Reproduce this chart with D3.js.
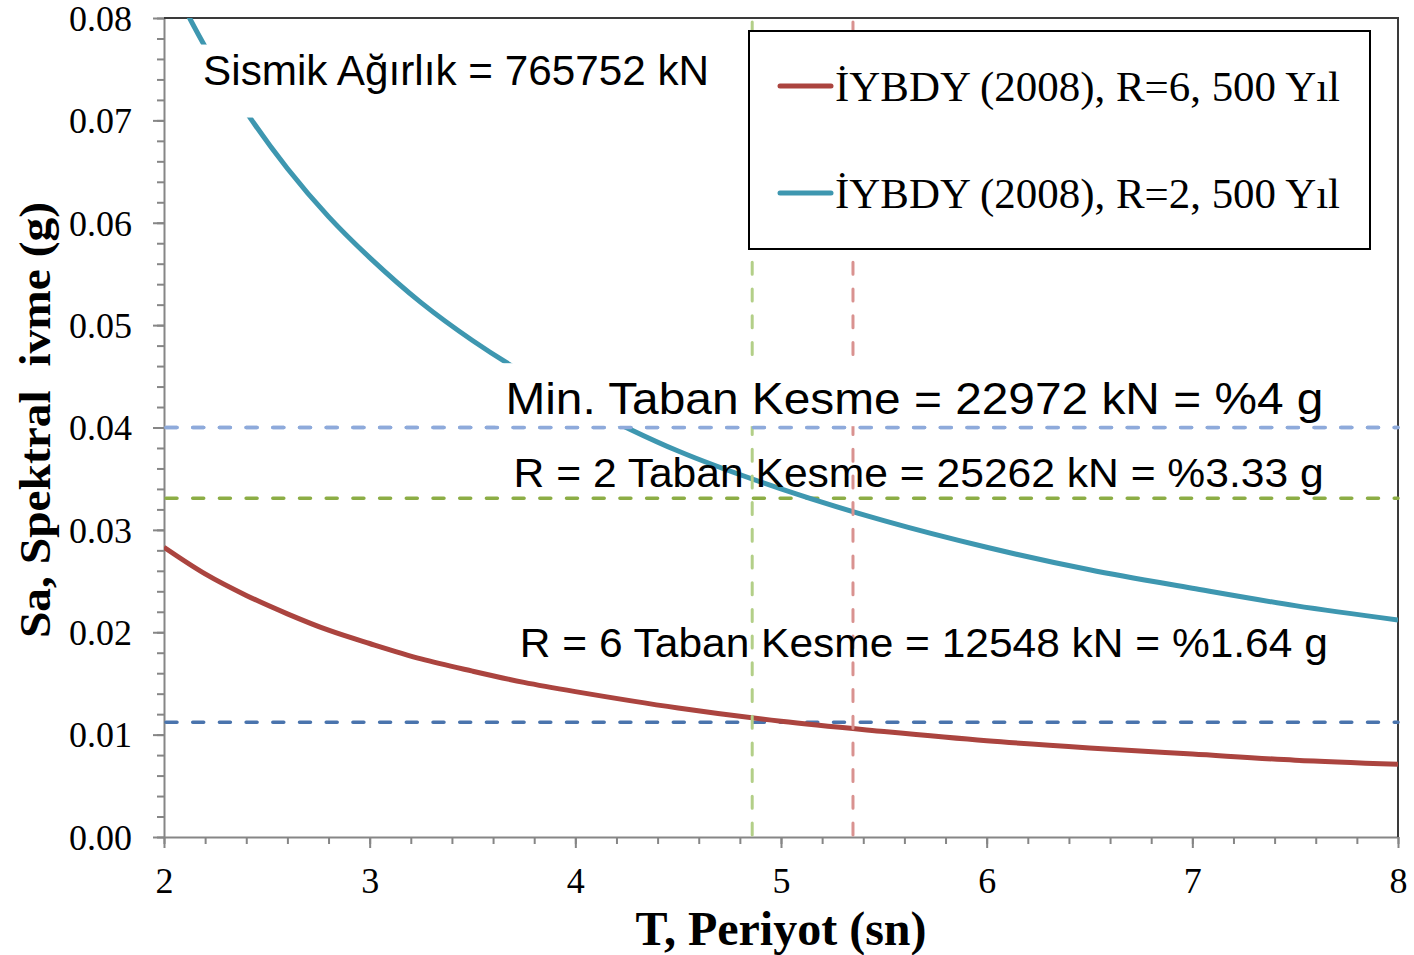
<!DOCTYPE html>
<html>
<head>
<meta charset="utf-8">
<script src="https://cdnjs.cloudflare.com/ajax/libs/d3/7.8.5/d3.min.js"></script>
<style>
  html, body { margin: 0; padding: 0; background: #fff; }
  svg { display: block; }
</style>
</head>
<body>
<div class="chart"></div>
<script>
// Periods (s) and spectral acceleration (g).
const periods = [2.0, 2.2, 2.4, 2.6, 2.8, 3.0, 3.25, 3.5, 3.75, 4.0, 4.5, 5.0, 5.5, 6.0, 6.5, 7.0, 7.5, 8.0];
const saR6 = [0.0283, 0.0257, 0.0236, 0.0218, 0.0202, 0.0189, 0.0174, 0.0162, 0.0151, 0.0142, 0.0126, 0.0113, 0.0103, 0.0094, 0.0087, 0.0081, 0.0075, 0.0071];
const saR2 = [0.0849, 0.0772, 0.0708, 0.0653, 0.0606, 0.0566, 0.0522, 0.0485, 0.0453, 0.0425, 0.0377, 0.0340, 0.0309, 0.0283, 0.0261, 0.0243, 0.0226, 0.0212];

const seriesNames = ['İYBDY (2008), R=6, 500 Yıl', 'İYBDY (2008), R=2, 500 Yıl'];
const seriesColors = ['#ab443f', '#3e97b0'];

// Reference levels.
const hLevels = [0.040, 0.0331, 0.0112];
const hColors = ['#8eaadb', '#8cad45', '#4a74ad'];
const vPeriods = [4.86, 5.35];
const vColors = ['#b3cf88', '#d99290'];

const xTicks = [2, 3, 4, 5, 6, 7, 8];
const yTicks = [0, 0.01, 0.02, 0.03, 0.04, 0.05, 0.06, 0.07, 0.08];

const notes = [
  {text: 'Sismik Ağırlık = 765752 kN', t: 2.19, v: 0.0735, len: 506, size: 42, box: [40, 33]},
  {text: 'Min. Taban Kesme = 22972 kN = %4 g', t: 3.66, v: 0.0413, len: 818, size: 45, box: [51, 12]},
  {text: 'R = 2 Taban Kesme = 25262 kN = %3.33 g', t: 3.70, v: 0.0342, len: 810, size: 41, box: null},
  {text: 'R = 6 Taban Kesme = 12548 kN = %1.64 g', t: 3.73, v: 0.0176, len: 808, size: 41, box: null}
];

const width = 1414, height = 955;
const plotL = 164, plotR = 1398, plotT = 18, plotB = 837;
const serif = '"Liberation Serif", "Times New Roman", serif';
const sans = '"Liberation Sans", Arial, sans-serif';

let svg = d3.select('.chart').append('svg')
    .attr('width', width)
    .attr('height', height);

let x = d3.scaleLinear().domain([2, 8]).range([plotL, plotR]);
let y = d3.scaleLinear().domain([0, 0.08]).range([plotB, plotT]);

svg.append('clipPath').attr('id', 'plot')
  .append('rect')
    .attr('x', plotL).attr('y', plotT)
    .attr('width', plotR - plotL).attr('height', plotB - plotT);

// Minor ticks first, then major axes with labels.
svg.append('g')
    .attr('transform', `translate(${plotL},0)`)
    .call(d3.axisLeft(y).tickValues(d3.range(0, 0.0801, 0.002)).tickSize(7).tickFormat(''))
    .call(g => g.select('.domain').remove());
svg.append('g')
    .attr('transform', `translate(0,${plotB})`)
    .call(d3.axisBottom(x).tickValues(d3.range(2, 8.01, 0.2)).tickSize(7).tickFormat(''))
    .call(g => g.select('.domain').remove());

let yAxis = svg.append('g')
    .attr('transform', `translate(${plotL},0)`)
    .call(d3.axisLeft(y).tickValues(yTicks).tickSize(11).tickSizeOuter(0).tickPadding(21).tickFormat(d3.format('.2f')));
let xAxis = svg.append('g')
    .attr('transform', `translate(0,${plotB})`)
    .call(d3.axisBottom(x).tickValues(xTicks).tickSize(11).tickSizeOuter(0).tickPadding(19).tickFormat(d3.format('d')));

svg.selectAll('.tick line').attr('stroke', '#868686').attr('stroke-width', 2);
[yAxis, xAxis].forEach(a => {
  a.select('.domain').attr('stroke', '#868686').attr('stroke-width', 2);
  a.selectAll('text').attr('font-family', serif).attr('font-size', 36).attr('fill', '#000');
});
yAxis.selectAll('text').attr('dy', '0.34em');

// Top and right frame.
svg.append('path')
    .attr('d', `M${plotL},${plotT}H${plotR}V${plotB}`)
    .attr('fill', 'none')
    .attr('stroke', '#3a3a3a')
    .attr('stroke-width', 2);

// Horizontal reference lines.
svg.selectAll('.hline')
    .data(hLevels)
    .enter()
    .append('line')
    .attr('class', 'hline')
    .attr('x1', plotL + 2).attr('x2', plotR)
    .attr('y1', d => y(d)).attr('y2', d => y(d))
    .attr('stroke', (d, i) => hColors[i])
    .attr('stroke-width', 3.5)
    .attr('stroke-dasharray', '11 15.7')
    .attr('stroke-linecap', 'round');

// Curves.
let line = d3.line()
    .x((d, i) => x(periods[i]))
    .y(d => y(d))
    .curve(d3.curveCatmullRom);

svg.append('g')
    .attr('clip-path', 'url(#plot)')
  .selectAll('path')
    .data([saR6, saR2])
    .enter()
    .append('path')
    .attr('d', line)
    .attr('fill', 'none')
    .attr('stroke', (d, i) => seriesColors[i])
    .attr('stroke-width', 5);

// Vertical reference lines.
svg.selectAll('.vline')
    .data(vPeriods)
    .enter()
    .append('line')
    .attr('class', 'vline')
    .attr('x1', d => x(d)).attr('x2', d => x(d))
    .attr('y1', plotT + 4).attr('y2', plotB - 2)
    .attr('stroke', (d, i) => vColors[i])
    .attr('stroke-width', 3)
    .attr('stroke-dasharray', '12 14.7')
    .attr('stroke-linecap', 'round');

// Annotations, some on a white box.
notes.forEach(n => {
  let tx = x(n.t), ty = y(n.v);
  if (n.box) {
    svg.append('rect')
        .attr('x', tx - 10).attr('y', ty - n.box[0])
        .attr('width', n.len + 20).attr('height', n.box[0] + n.box[1])
        .attr('fill', '#fff');
  }
  svg.append('text')
      .attr('x', tx).attr('y', ty)
      .attr('font-family', sans)
      .attr('font-size', n.size)
      .attr('textLength', n.len)
      .attr('lengthAdjust', 'spacingAndGlyphs')
      .text(n.text);
});

// Light blue line sits above the box of the minimum shear note.
svg.append('line')
    .attr('x1', plotL + 2).attr('x2', plotR)
    .attr('y1', y(hLevels[0])).attr('y2', y(hLevels[0]))
    .attr('stroke', hColors[0])
    .attr('stroke-width', 3.5)
    .attr('stroke-dasharray', '11 15.7')
    .attr('stroke-linecap', 'round');

// Legend.
let legend = svg.append('g');
legend.append('rect')
    .attr('x', 749).attr('y', 31)
    .attr('width', 621).attr('height', 218)
    .attr('fill', '#fff')
    .attr('stroke', '#000')
    .attr('stroke-width', 2);

seriesNames.forEach((name, i) => {
  let ly = 86 + i * 107;
  legend.append('line')
      .attr('x1', 780).attr('x2', 831)
      .attr('y1', ly).attr('y2', ly)
      .attr('stroke', seriesColors[i])
      .attr('stroke-width', 5)
      .attr('stroke-linecap', 'round');
  legend.append('text')
      .attr('x', 835).attr('y', ly + 15)
      .attr('font-family', serif)
      .attr('font-size', 42)
      .attr('textLength', 505)
      .attr('lengthAdjust', 'spacingAndGlyphs')
      .text(name);
});

// Axis titles.
svg.append('text')
    .attr('x', 781).attr('y', 945)
    .attr('text-anchor', 'middle')
    .attr('font-family', serif)
    .attr('font-weight', 'bold')
    .attr('font-size', 48)
    .text('T, Periyot (sn)');

svg.append('text')
    .attr('transform', 'translate(50,420) rotate(-90)')
    .attr('text-anchor', 'middle')
    .attr('font-family', serif)
    .attr('font-weight', 'bold')
    .attr('font-size', 44)
    .attr('textLength', 436)
    .attr('lengthAdjust', 'spacingAndGlyphs')
    .style('white-space', 'pre')
    .text('Sa, Spektral  ivme (g)');
</script>
</body>
</html>
